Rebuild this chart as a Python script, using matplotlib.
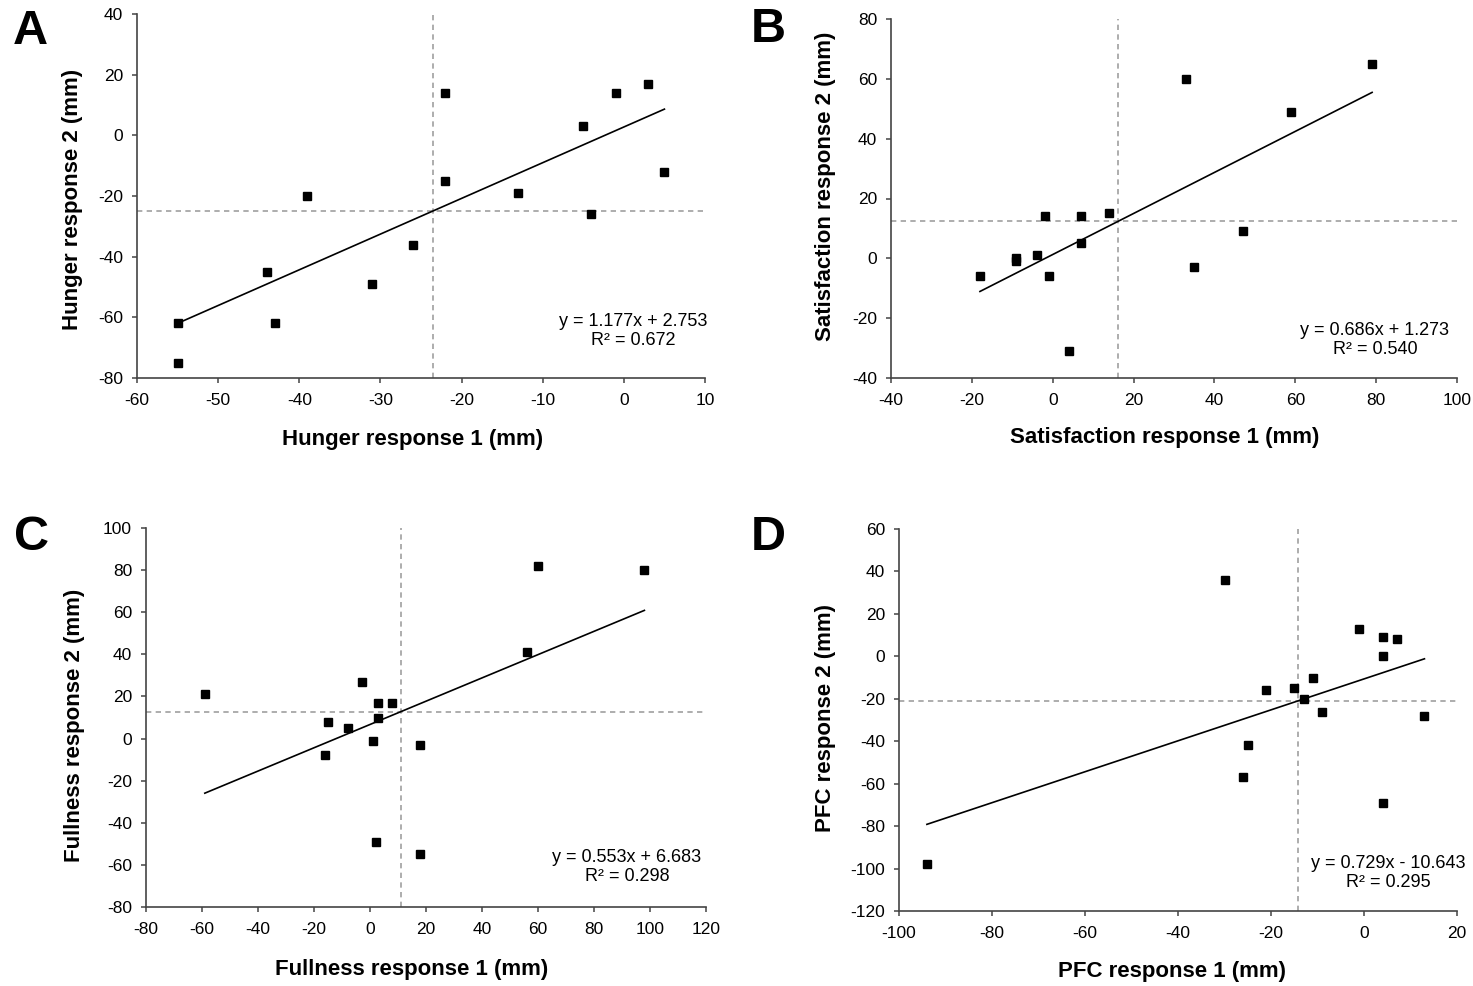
import numpy as np
import matplotlib
matplotlib.use("Agg")
import matplotlib.pyplot as plt

plt.rcParams['font.family'] = ['Liberation Sans', 'DejaVu Sans']
plt.rcParams['axes.unicode_minus'] = False

# ---------------- data ----------------
hunger_r1 = [-55, -55, -44, -43, -39, -31, -26, -22, -22, -13, -5, -4, -1, 3, 5]
hunger_r2 = [-62, -75, -45, -62, -20, -49, -36, 14, -15, -19, 3, -26, 14, 17, -12]

satis_r1 = [-18, -9, -9, -4, -2, -1, 4, 7, 7, 14, 33, 35, 47, 59, 79]
satis_r2 = [-6, 0, -1, 1, 14, -6, -31, 14, 5, 15, 60, -3, 9, 49, 65]

full_r1 = [-59, -16, -15, -8, -3, 1, 2, 3, 3, 8, 18, 18, 56, 60, 98]
full_r2 = [21, -8, 8, 5, 27, -1, -49, 17, 10, 17, -3, -55, 41, 82, 80]

pfc_r1 = [-94, -30, -26, -25, -21, -15, -13, -11, -9, -1, 4, 4, 4, 7, 13]
pfc_r2 = [-98, 36, -57, -42, -16, -15, -20, -10, -26, 13, 9, 0, -69, 8, -28]

slopes = [1.177, 0.686, 0.553, 0.729]
intercepts = [2.753, 1.273, 6.683, -10.643]
equations = ["y = 1.177x + 2.753\nR² = 0.672",
             "y = 0.686x + 1.273\nR² = 0.540",
             "y = 0.553x + 6.683\nR² = 0.298",
             "y = 0.729x - 10.643\nR² = 0.295"]
xlabels = ["Hunger response 1 (mm)", "Satisfaction response 1 (mm)",
           "Fullness response 1 (mm)", "PFC response 1 (mm)"]
ylabels = ["Hunger response 2 (mm)", "Satisfaction response 2 (mm)",
           "Fullness response 2 (mm)", "PFC response 2 (mm)"]
panel_letters = ["A", "B", "C", "D"]
xlims = [(-60, 10), (-40, 100), (-80, 120), (-100, 20)]
ylims = [(-80, 40), (-40, 80), (-80, 100), (-120, 60)]
xsteps = [10, 20, 20, 20]
ysteps = [20, 20, 20, 20]

xs = [hunger_r1, satis_r1, full_r1, pfc_r1]
ys = [hunger_r2, satis_r2, full_r2, pfc_r2]

# ---------------- layout (pixels) ----------------
W, H = 1473, 986
fig = plt.figure(figsize=(W / 100, H / 100), dpi=100)

# left, top, right, bottom in pixel coordinates
boxes = [(137, 14, 705, 378), (891, 19, 1457, 378),
         (146, 528, 706, 907), (899, 529, 1457, 911)]
eq_pos = [(633, 331), (1375, 340), (627, 867), (1388, 873)]
xlabel_pos = [(413, 439), (1165, 438), (412, 969), (1172, 971)]
ylabel_pos = [(73, 199), (826, 186), (75, 725), (826, 718)]
letter_pos = [(30, 31), (768, 30), (32, 537), (768, 537)]

def fx(px):
    return px / W

def fy(py):
    return 1 - py / H

spine_col = '#444444'
for i in range(4):
    l, t, r, b = boxes[i]
    ax = fig.add_axes([fx(l), fy(b), (r - l) / W, (b - t) / H])
    x = np.array(xs[i], dtype=float)
    y = np.array(ys[i], dtype=float)

    # mean reference lines
    ax.axvline(x.mean(), color='#a0a0a0', lw=1.2, ls=(0, (3.2, 2.6)), zorder=1)
    ax.axhline(y.mean(), color='#a0a0a0', lw=1.2, ls=(0, (3.2, 2.6)), zorder=1)

    # trend line
    xl = np.array([x.min(), x.max()])
    ax.plot(xl, slopes[i] * xl + intercepts[i], color='black', lw=1.2, zorder=2)

    # points
    ax.plot(x, y, ls='none', marker='s', ms=5.6, color='black', zorder=3)

    ax.set_xlim(*xlims[i])
    ax.set_ylim(*ylims[i])
    ax.set_xticks(np.arange(xlims[i][0], xlims[i][1] + 1, xsteps[i]))
    ax.set_yticks(np.arange(ylims[i][0], ylims[i][1] + 1, ysteps[i]))
    for s in ['top', 'right']:
        ax.spines[s].set_visible(False)
    for s in ['left', 'bottom']:
        ax.spines[s].set_color(spine_col)
        ax.spines[s].set_linewidth(1.2)
    ax.tick_params(direction='out', length=3.5, width=1.1, color=spine_col,
                   labelsize=12.5)
    ax.tick_params(axis='x', pad=7.5)
    ax.tick_params(axis='y', pad=6.5)
    ax.set_facecolor('none')

    ex, ey = eq_pos[i]
    fig.text(fx(ex), fy(ey), equations[i], ha='center', va='center',
             fontsize=13, linespacing=1.15)
    lx, ly = xlabel_pos[i]
    fig.text(fx(lx), fy(ly), xlabels[i], ha='center', va='center',
             fontsize=16, fontweight='bold')
    yx, yy = ylabel_pos[i]
    fig.text(fx(yx), fy(yy), ylabels[i], ha='center', va='center',
             fontsize=16, fontweight='bold', rotation=90)
    px, py = letter_pos[i]
    fig.text(fx(px), fy(py), panel_letters[i], ha='center', va='center',
             fontsize=35, fontweight='bold')

fig.savefig('out.png', dpi=100)
